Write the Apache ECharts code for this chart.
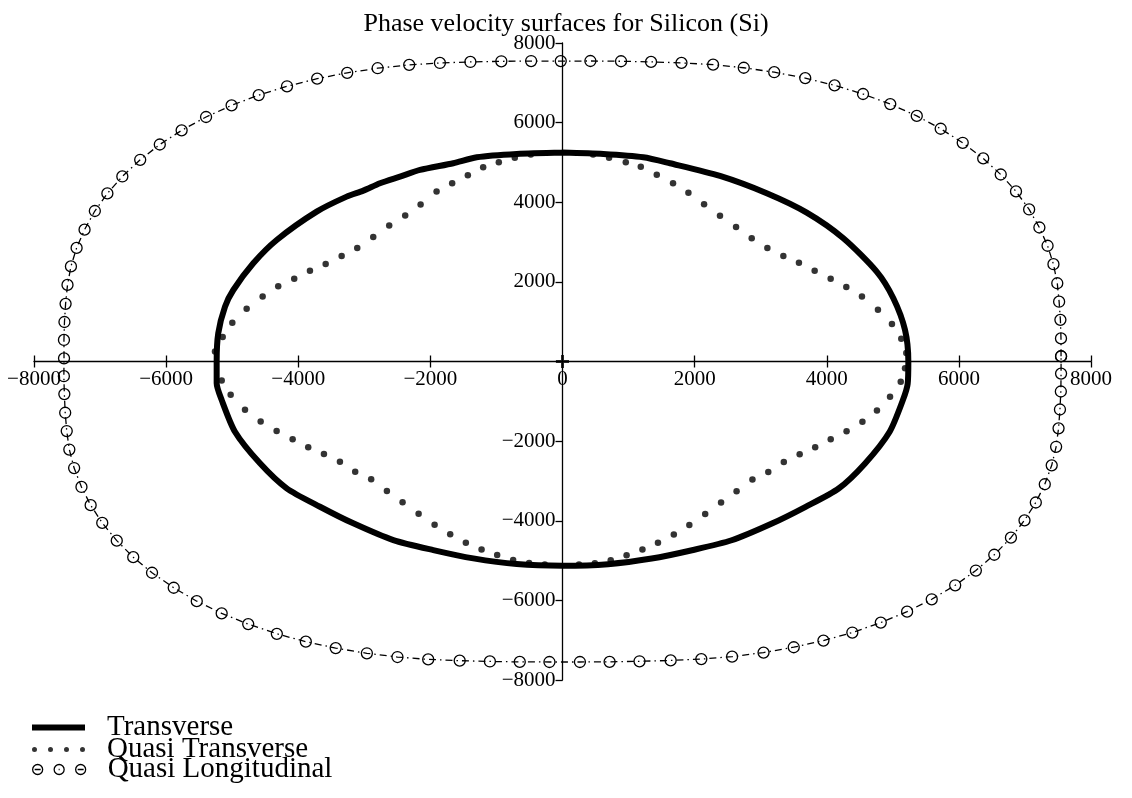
<!DOCTYPE html>
<html>
<head>
<meta charset="utf-8">
<title>Phase velocity surfaces for Silicon (Si)</title>
<script src="https://cdn.jsdelivr.net/npm/echarts@6.0.0/dist/echarts.min.js"></script>
<style>
  html, body { margin: 0; padding: 0; background: #fff; }
  #chart { width: 1132px; height: 798px; }
</style>
</head>
<body>
<div id="chart"></div>
<script>
// axis range
var axisMin = -8000;
var axisMax = 8000;
var axisStep = 2000;

// Quasi Longitudinal: marker direction (deg) and phase velocity (m/s)
var qlAngle = [1.0, 4.4, 7.9, 11.3, 14.7, 18.2, 21.6, 25.0, 28.4, 31.9, 35.3, 38.7, 42.2, 45.6, 49.0, 52.5,
  55.9, 59.3, 62.7, 66.2, 69.6, 73.0, 76.5, 79.9, 83.3, 86.8, 90.2, 93.6, 97.0, 100.5, 103.9, 107.3,
  110.8, 114.2, 117.6, 121.1, 124.5, 127.9, 131.3, 134.8, 138.2, 141.6, 145.1, 148.5, 151.9, 155.4,
  158.8, 162.2, 165.6, 169.1, 172.5, 175.9, 179.4, 182.8, 186.2, 189.7, 193.1, 196.5, 199.9, 203.4,
  206.8, 210.2, 213.7, 217.1, 220.5, 224.0, 227.4, 230.8, 234.2, 237.7, 241.1, 244.5, 248.0, 251.4,
  254.8, 258.3, 261.7, 265.1, 268.5, 272.0, 275.4, 278.8, 282.3, 285.7, 289.1, 292.6, 296.0, 299.4,
  302.8, 306.3, 309.7, 313.1, 316.6, 320.0, 323.4, 326.9, 330.3, 333.7, 337.1, 340.6, 344.0, 347.4,
  350.9, 354.3, 357.7];
var qlSpeed = [7548, 7568, 7609, 7666, 7743, 7823, 7897, 7965, 8030, 8086, 8128, 8160, 8178, 8182, 8174, 8150,
  8114, 8067, 8011, 7942, 7872, 7797, 7714, 7644, 7593, 7560, 7545, 7562, 7597, 7652, 7725, 7804,
  7880, 7950, 8016, 8073, 8119, 8154, 8175, 8182, 8177, 8157, 8124, 8080, 8025, 7957,
  7889, 7815, 7736, 7660, 7604, 7566, 7546, 7557, 7585, 7637, 7705, 7786, 7862, 7934,
  8002, 8061, 8110, 8147, 8171, 8181, 8179, 8163, 8133, 8092, 8039, 7975, 7905, 7832,
  7754, 7674, 7614, 7573, 7550, 7552, 7577, 7620, 7685, 7765, 7845, 7919, 7985, 8046,
  8099, 8138, 8166, 8180, 8181, 8168, 8141, 8103, 8051, 7992, 7925, 7851, 7773, 7694,
  7626, 7581, 7553];

// Quasi Transverse dots [vx, vy]
var qtPoints = [
  [463, 5200], [705, 5117], [958, 5006], [1185, 4890], [1427, 4689], [1673, 4478], [1906, 4236],
  [2143, 3950], [2384, 3658], [2627, 3381], [2864, 3095], [3101, 2853], [3343, 2652], [3579, 2483],
  [3817, 2282], [4059, 2081], [4296, 1872], [4533, 1635], [4775, 1301], [4987, 941], [5128, 571],
  [5204, 211], [5185, -171], [5120, -508], [4958, -884], [4760, -1230], [4540, -1515], [4300, -1750],
  [4060, -1955], [3825, -2155], [3590, -2330], [3350, -2525], [3115, -2775], [2875, -2965],
  [2635, -3260], [2400, -3540], [2160, -3830], [1920, -4105], [1685, -4345], [1445, -4555],
  [1210, -4720], [970, -4865], [730, -4990], [490, -5065], [250, -5097],
  [-268, -5097], [-505, -5064], [-747, -4989], [-989, -4863], [-1225, -4719], [-1463, -4553],
  [-1700, -4342], [-1936, -4101], [-2178, -3824], [-2421, -3537], [-2658, -3253], [-2896, -2958],
  [-3138, -2767], [-3369, -2516], [-3611, -2322], [-3849, -2153], [-4085, -1952], [-4327, -1743],
  [-4569, -1509], [-4806, -1215], [-5023, -838], [-5159, -478],
  [-5260, 252], [-5144, 614], [-4998, 976], [-4781, 1326], [-4539, 1635], [-4303, 1887],
  [-4061, 2081], [-3823, 2282], [-3585, 2450], [-3343, 2652], [-3107, 2853], [-2865, 3130],
  [-2623, 3414], [-2381, 3665], [-2148, 3942], [-1906, 4270], [-1670, 4478], [-1433, 4679],
  [-1201, 4880], [-964, 5006], [-722, 5117], [-480, 5200]
];

// Transverse curve [vx, vy]
var transversePoints = [
  [0, 5250], [618, 5214], [1223, 5131], [1627, 4980], [2384, 4661], [3091, 4226], [3697, 3739],
  [4251, 3096], [4756, 2257], [5008, 1588], [5185, 791], [5235, 0],
  [5225, -560], [5150, -980], [4950, -1770], [4580, -2560], [4180, -3190], [3680, -3650],
  [3170, -4070], [2560, -4490], [1960, -4740], [1350, -4950], [690, -5090], [0, -5130],
  [-693, -5088], [-1350, -4945], [-1956, -4736], [-2561, -4485], [-3167, -4065], [-3671, -3648],
  [-4175, -3186], [-4579, -2558], [-4958, -1764], [-5159, -967], [-5235, -548], [-5235, 0],
  [-5211, 709], [-5109, 1377], [-4983, 1796], [-4681, 2467], [-4326, 3052], [-3721, 3764],
  [-3267, 4141], [-3015, 4292], [-2763, 4477], [-2460, 4643], [-2157, 4811], [-1653, 4980],
  [-1299, 5131], [-693, 5214], [0, 5250]
];

var originPoint = [[0, 0]];

var serif = "'Liberation Serif', 'Times New Roman', serif";

// grid box; the axes cross in its middle
var gridLeft = 34, gridRight = 41, gridTop = 43, gridBottom = 118;
var halfW = (1132 - gridLeft - gridRight) / 2;
var halfH = (798 - gridTop - gridBottom) / 2;

function polarToXY(angles, speeds) {
  var pts = [];
  for (var i = 0; i < angles.length; i++) {
    var a = angles[i] * Math.PI / 180;
    pts.push([speeds[i] * Math.cos(a), speeds[i] * Math.sin(a)]);
  }
  pts.push(pts[0]);
  return pts;
}

function tickText(v) {
  return v < 0 ? '\u2212' + (-v) : String(v);
}

var qtIcon = 'path://M0,2.5a2.5,2.5 0 1,0 5,0a2.5,2.5 0 1,0 -5,0Z' +
  'M16,2.5a2.5,2.5 0 1,0 5,0a2.5,2.5 0 1,0 -5,0Z' +
  'M32,2.5a2.5,2.5 0 1,0 5,0a2.5,2.5 0 1,0 -5,0Z' +
  'M48,2.5a2.5,2.5 0 1,0 5,0a2.5,2.5 0 1,0 -5,0Z';
var qlIcon = 'path://M0,5a5,5 0 1,0 10,0a5,5 0 1,0 -10,0ZM2,5H8' +
  'M21.5,5a5,5 0 1,0 10,0a5,5 0 1,0 -10,0ZM26,5H27' +
  'M43,5a5,5 0 1,0 10,0a5,5 0 1,0 -10,0ZM45,5H51';

// one legend per row so the rows can sit closer than the font size
function legendRow(top, item) {
  return {
    orient: 'vertical',
    left: 32,
    top: top,
    padding: 0,
    itemWidth: 53,
    itemHeight: 11,
    selectedMode: false,
    textStyle: { fontFamily: serif, fontSize: 29, color: '#000', padding: [0, 0, 0, 17] },
    data: [item]
  };
}

var chart = echarts.init(document.getElementById('chart'));

var option = {
  animation: false,
  backgroundColor: '#fff',
  title: {
    text: 'Phase velocity surfaces for Silicon (Si)',
    left: 'center',
    top: 6,
    textStyle: { fontFamily: serif, fontSize: 26, fontWeight: 'normal', color: '#000', lineHeight: 26 }
  },
  grid: { left: gridLeft, right: gridRight, top: gridTop, bottom: gridBottom, outerBoundsMode: 'none' },
  legend: [
    legendRow(713, { name: 'Transverse', icon: 'path://M0,0H53V6H0Z',
      itemStyle: { color: '#000', borderWidth: 0 } }),
    legendRow(735, { name: 'Quasi Transverse', icon: qtIcon,
      itemStyle: { color: '#000', borderWidth: 0 } }),
    legendRow(755, { name: 'Quasi Longitudinal', icon: qlIcon,
      itemStyle: { color: 'rgba(0,0,0,0)', borderColor: '#000', borderWidth: 1.3 } })
  ],
  xAxis: [
    {
      type: 'value', min: axisMin, max: axisMax, interval: axisStep, position: 'bottom', offset: -halfH,
      axisLine: { show: true, onZero: false, lineStyle: { color: '#000', width: 1.3 } },
      axisTick: { show: true, length: 6, lineStyle: { color: '#000', width: 1.3 } },
      axisLabel: { color: '#000', fontFamily: serif, fontSize: 21, lineHeight: 21, margin: 7,
        showMinLabel: true, showMaxLabel: true, formatter: tickText },
      splitLine: { show: false }
    },
    {
      type: 'value', min: axisMin, max: axisMax, interval: axisStep, position: 'top', offset: -halfH,
      axisLine: { show: false, onZero: false },
      axisTick: { show: true, length: 6, lineStyle: { color: '#000', width: 1.3 } },
      axisLabel: { show: false },
      splitLine: { show: false }
    }
  ],
  yAxis: {
    type: 'value', min: axisMin, max: axisMax, interval: axisStep, position: 'left', offset: -halfW,
    axisLine: { show: true, onZero: false, lineStyle: { color: '#000', width: 1.3 } },
    axisTick: { show: true, length: 7, lineStyle: { color: '#000', width: 1.3 } },
    axisLabel: { color: '#000', fontFamily: serif, fontSize: 21, margin: 7,
      showMinLabel: true, showMaxLabel: true,
      formatter: function (v) { return v === 0 ? '' : tickText(v); } },
    splitLine: { show: false }
  },
  series: [
    {
      name: 'Transverse',
      type: 'line',
      data: transversePoints,
      showSymbol: false,
      smooth: 0.25,
      color: '#000',
      lineStyle: { color: '#000', width: 6, join: 'round', cap: 'round' },
      emphasis: { disabled: true },
      z: 3
    },
    {
      name: 'Quasi Transverse',
      type: 'scatter',
      data: qtPoints,
      symbol: 'circle',
      symbolSize: 6.5,
      color: '#000',
      itemStyle: { color: '#000' },
      emphasis: { disabled: true },
      z: 4
    },
    {
      name: 'Quasi Longitudinal',
      type: 'line',
      data: polarToXY(qlAngle, qlSpeed),
      symbol: 'circle',
      symbolSize: 11,
      showSymbol: true,
      color: '#000',
      itemStyle: { color: 'rgba(0,0,0,0)', borderColor: '#000', borderWidth: 1.3 },
      lineStyle: { color: '#000', width: 1.3, type: [7, 4, 1.5, 4] },
      emphasis: { disabled: true },
      z: 3
    },
    {
      name: 'origin',
      type: 'scatter',
      data: originPoint,
      symbol: 'path://M5,0H8V5H13V8H8V13H5V8H0V5H5Z',
      symbolSize: 13,
      itemStyle: { color: '#000' },
      emphasis: { disabled: true },
      z: 5
    }
  ]
};

chart.setOption(option);
</script>
</body>
</html>
